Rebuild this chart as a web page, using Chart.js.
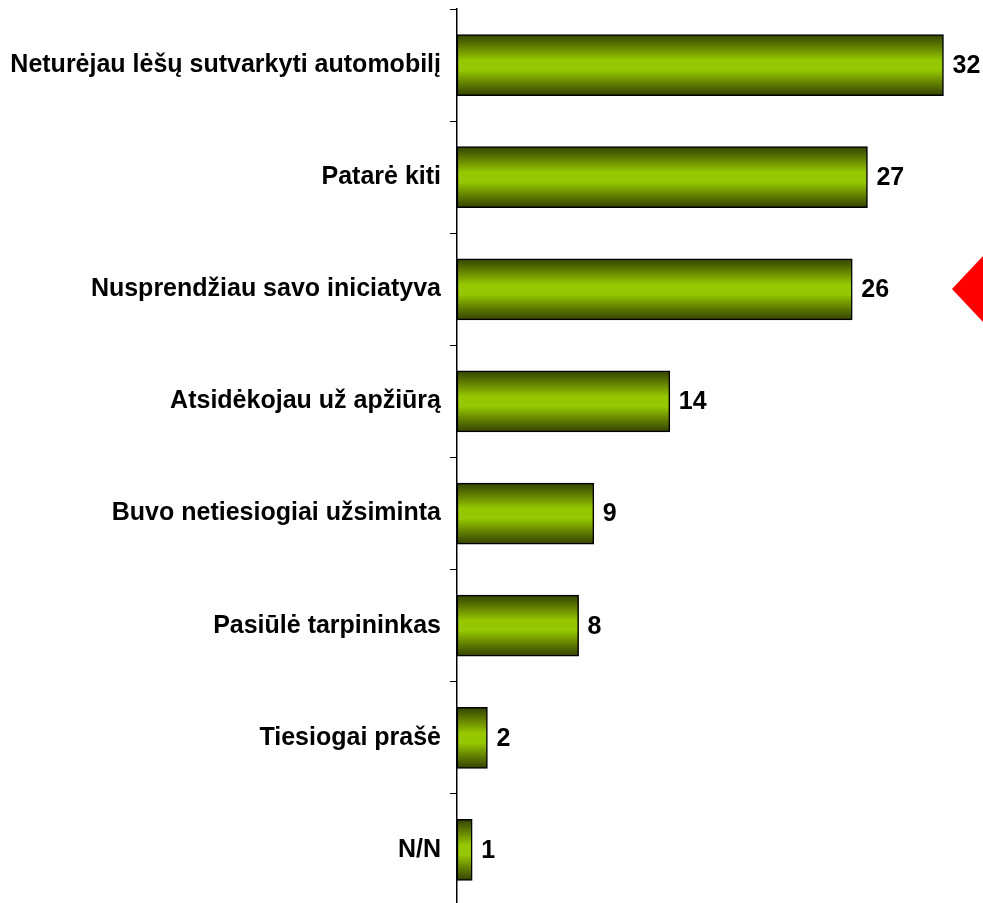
<!DOCTYPE html>
<html>
<head>
<meta charset="utf-8">
<script src="https://cdn.jsdelivr.net/npm/chart.js@4"></script>
<style>
  html, body { margin: 0; padding: 0; background: #fff; overflow: hidden; }
  #wrap { position: relative; width: 983px; height: 906px; }
  #marker {
    position: absolute; left: 952px; top: 256px; width: 0; height: 0;
    border-top: 33px solid transparent;
    border-bottom: 33px solid transparent;
    border-right: 31px solid #ff0000;
  }
</style>
</head>
<body>
<div id="wrap">
  <canvas id="chart" width="983" height="906"></canvas>
  <div id="marker"></div>
</div>
<script>
const labels = [
  "Neturėjau lėšų sutvarkyti automobilį",
  "Patarė kiti",
  "Nusprendžiau savo iniciatyva",
  "Atsidėkojau už apžiūrą",
  "Buvo netiesiogiai užsiminta",
  "Pasiūlė tarpininkas",
  "Tiesiogai prašė",
  "N/N"
];
const values = [32, 27, 26, 14, 9, 8, 2, 1];

const BAR_H = 61;
const FONT = "'Liberation Sans', Arial, sans-serif";

function barGradient(ctx) {
  const chart = ctx.chart;
  const y = chart.scales.y ? chart.scales.y.getPixelForValue(ctx.dataIndex) : NaN;
  if (!isFinite(y)) return "#99cc00";
  const g = chart.ctx.createLinearGradient(0, y - BAR_H / 2, 0, y + BAR_H / 2);
  g.addColorStop(0, "#334200");
  g.addColorStop(0.2, "#627f00");
  g.addColorStop(0.42, "#96c800");
  g.addColorStop(0.58, "#96c800");
  g.addColorStop(0.8, "#627f00");
  g.addColorStop(1, "#334200");
  return g;
}

const valueLabels = {
  id: "valueLabels",
  afterDatasetsDraw(chart) {
    const c = chart.ctx;
    c.save();
    c.font = "bold 25px " + FONT;
    c.fillStyle = "#000";
    c.textBaseline = "middle";
    c.textAlign = "left";
    chart.getDatasetMeta(0).data.forEach((bar, i) => {
      c.fillText(values[i], bar.x + 9, bar.y + 1);
    });
    c.restore();
  }
};

new Chart(document.getElementById("chart"), {
  type: "bar",
  data: {
    labels: labels,
    datasets: [{
      data: values,
      backgroundColor: barGradient,
      borderColor: "#000",
      borderWidth: 1.5,
      borderSkipped: false,
      barThickness: BAR_H
    }]
  },
  options: {
    indexAxis: "y",
    responsive: false,
    animation: false,
    layout: { padding: { top: 9, right: 0, bottom: 0, left: 0 } },
    plugins: {
      legend: { display: false },
      tooltip: { enabled: false }
    },
    scales: {
      x: {
        display: false,
        min: 0,
        max: 34.6
      },
      y: {
        offset: true,
        afterFit(scale) {
          scale.width = 457;
          scale.paddingTop = 0;
          scale.paddingBottom = 0;
        },
        grid: {
          offset: true,
          drawOnChartArea: false,
          tickLength: 7,
          color: "#000",
          lineWidth: 1
        },
        border: { display: true, color: "#000", width: 1.5 },
        ticks: {
          color: "#000",
          padding: 9,
          font: { family: FONT, size: 25, weight: "bold" }
        }
      }
    }
  },
  plugins: [valueLabels]
});
</script>
</body>
</html>
